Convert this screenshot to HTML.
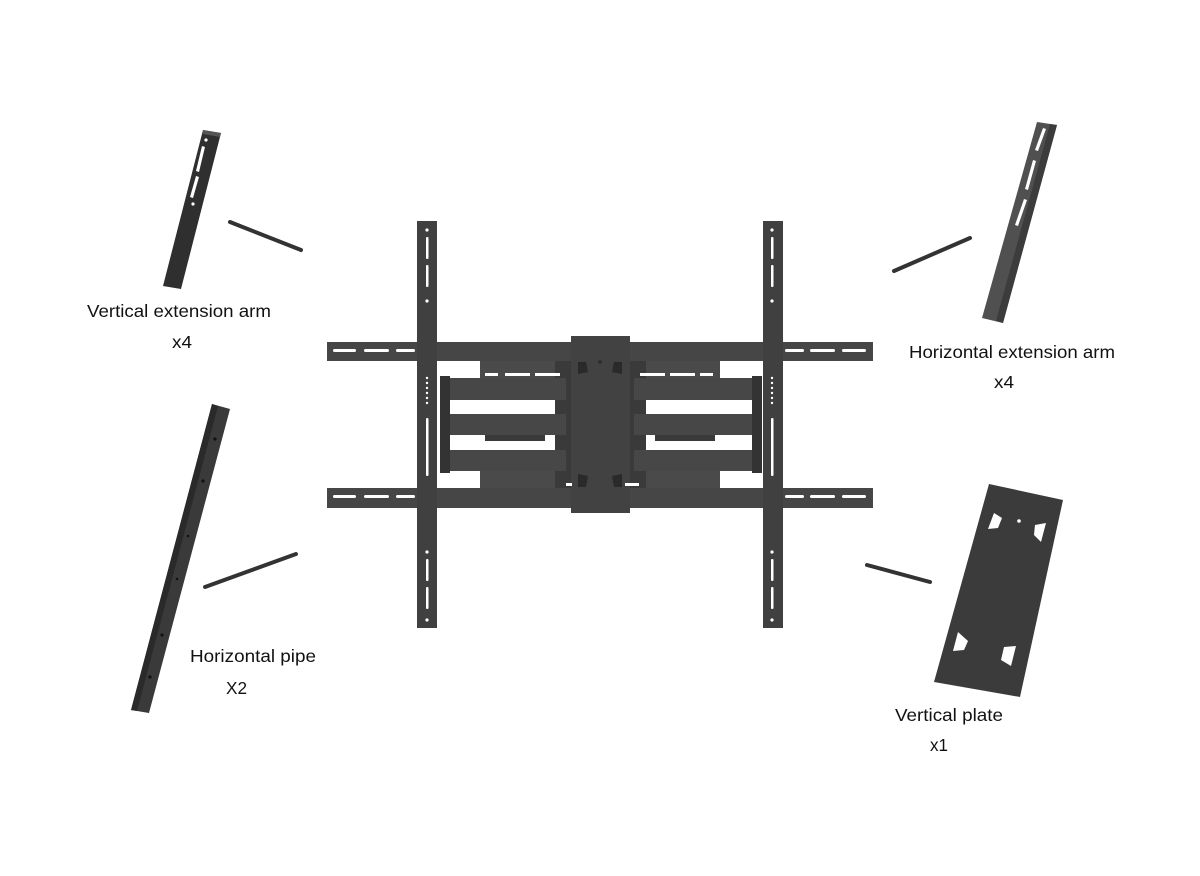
<!DOCTYPE html>
<html><head><meta charset="utf-8"><style>
html,body{margin:0;padding:0;background:#fff}
svg{display:block}
text{font-family:"Liberation Sans",Arial,sans-serif;font-size:17.5px;fill:#111}
</style></head><body>
<svg width="1200" height="876" viewBox="0 0 1200 876" xmlns="http://www.w3.org/2000/svg">
<rect width="1200" height="876" fill="#fff"/>

<!-- Vertical extension arm (left top) -->
<polygon points="203,130 221,133 181,289 163,286" fill="#2f2f2f"/>
<polygon points="203,130 221,133 220,137 203,134" fill="#555"/>
<g fill="#fff">
<circle cx="206" cy="140" r="1.6"/>
<polygon points="202,146 205,147 199,172 196,171"/>
<polygon points="196,176 199,177 193,198 190,197"/>
<circle cx="193" cy="204" r="1.6"/>
</g>
<line x1="230" y1="222" x2="301" y2="250" stroke="#333" stroke-width="4" stroke-linecap="round"/>

<!-- Horizontal pipe -->
<polygon points="212,404 230,409 149,713 131,710" fill="#3a3a3a"/>
<polygon points="212,404 218,406 137,711 131,710" fill="#2a2a2a"/>
<g fill="#111">
<circle cx="215" cy="439" r="1.6"/><circle cx="203" cy="481" r="1.6"/>
<circle cx="188" cy="536" r="1.3"/><circle cx="177" cy="579" r="1.3"/>
<circle cx="162" cy="635" r="1.6"/><circle cx="150" cy="677" r="1.6"/>
</g>
<line x1="205" y1="587" x2="296" y2="554" stroke="#333" stroke-width="4" stroke-linecap="round"/>

<!-- Horizontal extension arm (right top) -->
<polygon points="1037,122 1057,125 1003,323 982,318" fill="#505050"/>
<polygon points="1050,124 1057,125 1003,323 996,321" fill="#3c3c3c"/>
<g fill="#fff">
<polygon points="1043,128 1046,129 1038,151 1035,150"/>
<polygon points="1033,160 1036,161 1028,190 1025,189"/>
<polygon points="1024,199 1027,200 1018,226 1015,225"/>
</g>
<line x1="894" y1="271" x2="970" y2="238" stroke="#333" stroke-width="4" stroke-linecap="round"/>

<!-- Vertical plate -->
<polygon points="989,484 1063,500 1020,697 934,682" fill="#3b3b3b"/>
<g fill="#fff">
<polygon points="994,513 1002,518 998,528 988,529"/>
<polygon points="1035,525 1046,523 1041,542 1034,535"/>
<polygon points="958,632 968,641 964,650 953,651"/>
<polygon points="1004,647 1016,646 1011,666 1001,660"/>
<circle cx="1019" cy="521" r="1.8"/>
</g>
<line x1="867" y1="565" x2="930" y2="582" stroke="#333" stroke-width="4" stroke-linecap="round"/>

<!-- Central mount -->
<g fill="#404040">
<!-- back plates (visible strips) -->
<rect x="480" y="361" width="90" height="17" fill="#4a4a4a"/>
<rect x="480" y="471" width="90" height="17" fill="#4a4a4a"/>
<rect x="630" y="361" width="90" height="17" fill="#4a4a4a"/>
<rect x="630" y="471" width="90" height="17" fill="#4a4a4a"/>
<rect x="555" y="361" width="16" height="127" fill="#3a3a3a"/>
<rect x="630" y="361" width="16" height="127" fill="#3a3a3a"/>
<rect x="485" y="435" width="60" height="6" fill="#3a3a3a"/>
<rect x="655" y="435" width="60" height="6" fill="#3a3a3a"/>
<!-- horizontal bars -->
<rect x="327" y="342" width="546" height="19" fill="#464646"/>
<rect x="327" y="488" width="546" height="20" fill="#464646"/>
<!-- vertical rails -->
<rect x="417" y="221" width="20" height="407"/>
<rect x="763" y="221" width="20" height="407"/>
<!-- arms -->
<rect x="450" y="378" width="116" height="22" fill="#474747"/>
<rect x="450" y="414" width="116" height="21" fill="#474747"/>
<rect x="450" y="450" width="116" height="21" fill="#474747"/>
<rect x="634" y="378" width="118" height="22" fill="#474747"/>
<rect x="634" y="414" width="118" height="21" fill="#474747"/>
<rect x="634" y="450" width="118" height="21" fill="#474747"/>
<rect x="440" y="376" width="10" height="97" fill="#333"/>
<rect x="752" y="376" width="10" height="97" fill="#333"/>
<!-- center plate -->
<rect x="571" y="336" width="59" height="177" fill="#424242"/>
</g>
<!-- slots -->
<g fill="#fff">
<rect x="333" y="349" width="23" height="3" rx="1.5"/><rect x="364" y="349" width="25" height="3" rx="1.5"/><rect x="396" y="349" width="19" height="3" rx="1.5"/>
<rect x="785" y="349" width="19" height="3" rx="1.5"/><rect x="810" y="349" width="25" height="3" rx="1.5"/><rect x="842" y="349" width="24" height="3" rx="1.5"/>
<rect x="333" y="495" width="23" height="3" rx="1.5"/><rect x="364" y="495" width="25" height="3" rx="1.5"/><rect x="396" y="495" width="19" height="3" rx="1.5"/>
<rect x="785" y="495" width="19" height="3" rx="1.5"/><rect x="810" y="495" width="25" height="3" rx="1.5"/><rect x="842" y="495" width="24" height="3" rx="1.5"/>
<rect x="485" y="373" width="13" height="3"/><rect x="505" y="373" width="25" height="3"/><rect x="535" y="373" width="25" height="3"/>
<rect x="640" y="373" width="25" height="3"/><rect x="670" y="373" width="25" height="3"/><rect x="700" y="373" width="13" height="3"/>
<rect x="625" y="483" width="14" height="3"/><rect x="566" y="483" width="6" height="3"/>
<!-- rail slots -->
<circle cx="427" cy="230" r="1.6"/><rect x="426" y="237" width="2.5" height="22" rx="1"/><rect x="426" y="265" width="2.5" height="22" rx="1"/><circle cx="427" cy="301" r="1.6"/>
<circle cx="772" cy="230" r="1.6"/><rect x="771" y="237" width="2.5" height="22" rx="1"/><rect x="771" y="265" width="2.5" height="22" rx="1"/><circle cx="772" cy="301" r="1.6"/>
<circle cx="427" cy="378" r="1.2"/><circle cx="427" cy="383" r="1.2"/><circle cx="427" cy="388" r="1.2"/><circle cx="427" cy="393" r="1.2"/><circle cx="427" cy="398" r="1.2"/><circle cx="427" cy="403" r="1.2"/>
<circle cx="772" cy="378" r="1.2"/><circle cx="772" cy="383" r="1.2"/><circle cx="772" cy="388" r="1.2"/><circle cx="772" cy="393" r="1.2"/><circle cx="772" cy="398" r="1.2"/><circle cx="772" cy="403" r="1.2"/>
<rect x="426" y="418" width="2.5" height="58" rx="1"/><rect x="771" y="418" width="2.5" height="58" rx="1"/>
<circle cx="427" cy="552" r="1.6"/><rect x="426" y="559" width="2.5" height="22" rx="1"/><rect x="426" y="587" width="2.5" height="22" rx="1"/><circle cx="427" cy="620" r="1.6"/>
<circle cx="772" cy="552" r="1.6"/><rect x="771" y="559" width="2.5" height="22" rx="1"/><rect x="771" y="587" width="2.5" height="22" rx="1"/><circle cx="772" cy="620" r="1.6"/>
</g>
<g fill="#2a2a2a">
<polygon points="578,362 586,362 588,372 578,374"/><polygon points="614,362 622,362 622,374 612,372"/>
<polygon points="578,474 588,476 586,487 578,487"/><polygon points="622,474 612,476 614,487 622,487"/>
<circle cx="600" cy="362" r="1.8"/>
</g>

<!-- labels -->
<text x="87" y="317" textLength="184" lengthAdjust="spacingAndGlyphs">Vertical extension arm</text>
<text x="172" y="348" textLength="20" lengthAdjust="spacingAndGlyphs">x4</text>
<text x="909" y="358" textLength="206" lengthAdjust="spacingAndGlyphs">Horizontal extension arm</text>
<text x="994" y="388" textLength="20" lengthAdjust="spacingAndGlyphs">x4</text>
<text x="190" y="662" textLength="126" lengthAdjust="spacingAndGlyphs">Horizontal pipe</text>
<text x="226" y="694" textLength="21" lengthAdjust="spacingAndGlyphs">X2</text>
<text x="895" y="721" textLength="108" lengthAdjust="spacingAndGlyphs">Vertical plate</text>
<text x="930" y="751" textLength="18" lengthAdjust="spacingAndGlyphs">x1</text>
</svg>
</body></html>
